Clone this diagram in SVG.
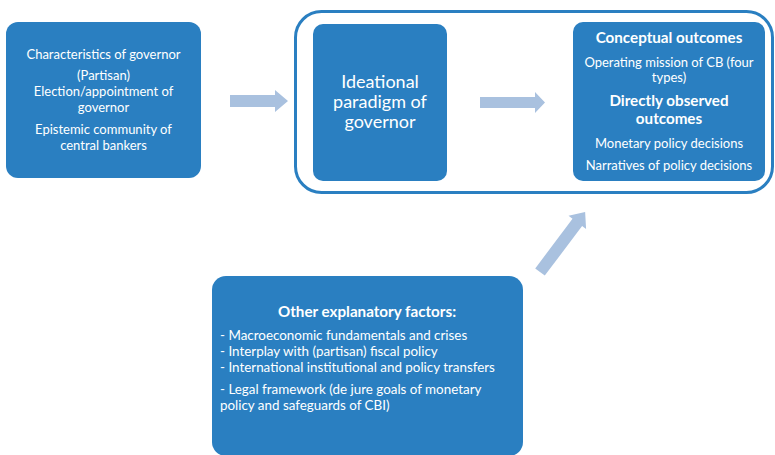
<svg xmlns="http://www.w3.org/2000/svg" width="775" height="455" viewBox="0 0 775 455">
<style>
.box{fill:#2a7fc1;}
.t{font-family:Lato,"Open Sans",sans-serif;fill:#ffffff;text-anchor:middle;}
.s{font-size:13px;}
.b{font-size:15.2px;font-weight:bold;}
.l{text-anchor:start;font-size:13.4px;}
.arr{fill:#a9c1df;}
</style>
<rect width="775" height="455" fill="#ffffff"/>
<g id="frame"><rect x="295.5" y="11.5" width="477" height="181" rx="26" fill="none" stroke="#2a7fc1" stroke-width="3"/></g>
<g id="characteristics">
<rect class="box" x="6" y="22" width="195" height="156" rx="12"/>
<text class="t s" x="103.5" y="59">Characteristics of governor</text>
<text class="t s" x="103.5" y="80">(Partisan)</text>
<text class="t s" x="103.5" y="96">Election/appointment of</text>
<text class="t s" x="103.5" y="112">governor</text>
<text class="t s" x="103.5" y="134">Epistemic community of</text>
<text class="t s" x="103.5" y="150">central bankers</text>
</g>
<g id="ideational">
<rect class="box" x="313" y="24" width="134" height="157" rx="10"/>
<text class="t" style="font-size:18px" x="380" y="88">Ideational</text>
<text class="t" style="font-size:18px" x="380" y="108">paradigm of</text>
<text class="t" style="font-size:18px" x="380" y="128">governor</text>
</g>
<g id="outcomes">
<rect class="box" x="573" y="22" width="192" height="159" rx="10"/>
<text class="t b" x="669" y="43">Conceptual outcomes</text>
<text class="t s" x="669" y="67">Operating mission of CB (four</text>
<text class="t s" x="669" y="82">types)</text>
<text class="t b" x="669" y="106">Directly observed</text>
<text class="t b" x="669" y="124">outcomes</text>
<text class="t s" x="669" y="148">Monetary policy decisions</text>
<text class="t s" x="669" y="170">Narratives of policy decisions</text>
</g>
<g id="other">
<rect class="box" x="212" y="276" width="311" height="180" rx="14"/>
<text class="t b" x="367" y="317">Other explanatory factors:</text>
<text class="t l" x="220" y="340">- Macroeconomic fundamentals and crises</text>
<text class="t l" x="220" y="356">- Interplay with (partisan) fiscal policy</text>
<text class="t l" x="220" y="372">- International institutional and policy transfers</text>
<text class="t l" x="220" y="394">- Legal framework (de jure goals of monetary</text>
<text class="t l" x="220" y="410">policy and safeguards of CBI)</text>
</g>
<g id="connectors">
<polygon class="arr" points="230,95 275,95 275,90 288,101 275,112 275,107 230,107"/>
<polygon class="arr" points="480,97 535,97 535,92 545,102.5 535,113 535,108 480,108"/>
<polygon class="arr" transform="translate(540,272) rotate(-53)" points="0,-6 62,-6 62,-11 75,0 62,11 62,6 0,6"/>
</g>
</svg>
